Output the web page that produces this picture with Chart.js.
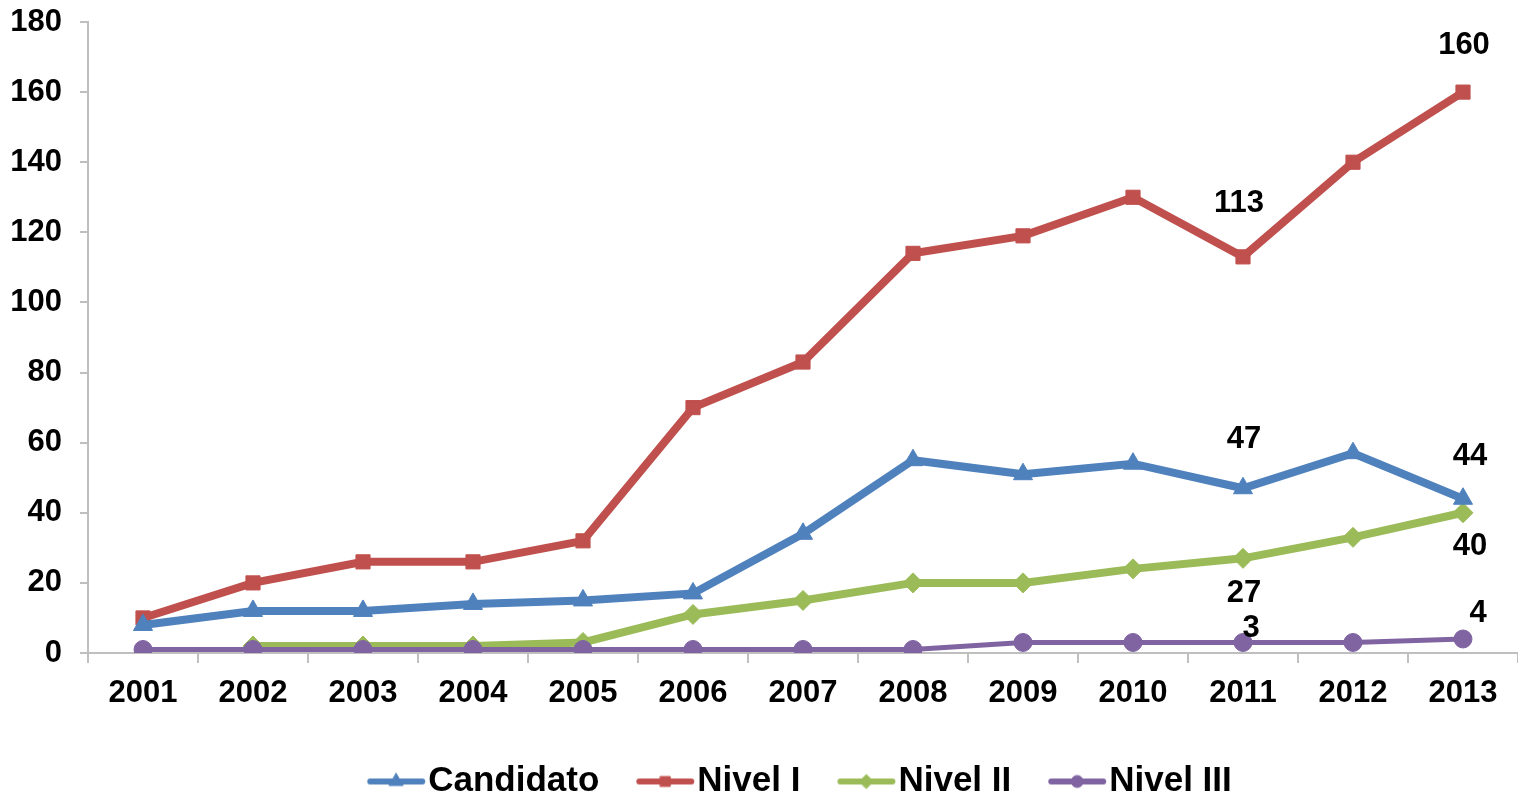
<!DOCTYPE html>
<html>
<head>
<meta charset="utf-8">
<script src="https://cdn.jsdelivr.net/npm/chart.js@4.4.1/dist/chart.umd.min.js"></script>
<style>
html,body{margin:0;padding:0;background:#fff;overflow:hidden;}
#wrap{width:1530px;height:797px;}
</style>
</head>
<body>
<div id="wrap"><canvas id="c" width="1530" height="797"></canvas></div>
<script>
// ---- data ----
const years = ['2001','2002','2003','2004','2005','2006','2007','2008','2009','2010','2011','2012','2013'];
const candidato = [8,12,12,14,15,17,34,55,51,54,47,57,44];
const nivelI   = [10,20,26,26,32,70,83,114,119,130,113,140,160];
const nivelII  = [null,2,2,2,3,11,15,20,20,24,27,33,40];
const nivelIII = [1,1,1,1,1,1,1,1,3,3,3,3,4];
const seriesNames = ['Candidato','Nivel I','Nivel II','Nivel III'];
const yTicks = [0,20,40,60,80,100,120,140,160,180];

// which points carry a value label
const labelSeries = ['Nivel I','Nivel I','Candidato','Candidato','Nivel II','Nivel II','Nivel III','Nivel III'];
const labelYears  = ['2011','2013','2011','2013','2011','2013','2011','2013'];
// label placement offsets (style, px)
const labelDx = [-4,1,1,7,1,7,8,15];
const labelDy = [-53,-47,-49,-42,35,34,-14,-26];

// ---- styles ----
const colors = ['#4F81BD','#C0504D','#9BBB59','#8064A2'];
const pointStyles = ['triangle','rect','rectRot','circle'];
const pointRadii = [11,10,10,9];
const lineWidths = [8,8,8,5];
const drawOrder = [1,2,3,0];
const FONT = "'Liberation Sans', Arial, sans-serif";
const LEG_FS = 35;
const LEG_BOX = 94 - LEG_FS/2;
const ICON_LEN = 58;
const LEGEND_SHIFT = -20;

const seriesData = [candidato, nivelI, nivelII, nivelIII];

function legendIcon(i){
  const cv = document.createElement('canvas');
  cv.width = Math.round(2*LEG_BOX); cv.height = 30;
  const ctx = cv.getContext('2d');
  const end = LEG_BOX + LEG_FS/2 - 3 + LEG_BOX/2;
  const start = end - ICON_LEN;
  ctx.strokeStyle = colors[i];
  ctx.lineWidth = 6;
  ctx.lineCap = 'round';
  ctx.beginPath(); ctx.moveTo(start+3,15); ctx.lineTo(end-3,15); ctx.stroke();
  ctx.fillStyle = colors[i];
  ctx.strokeStyle = colors[i];
  ctx.lineWidth = 1;
  Chart.helpers.drawPoint(ctx, {pointStyle: pointStyles[i], radius: Math.max(5, pointRadii[i]-3), rotation: 0, borderWidth: 1}, (start+end)/2, 15);
  return cv;
}

const valueLabels = {
  id: 'valueLabels',
  afterLayout(chart){
    if (chart.legend){ chart.legend.left += LEGEND_SHIFT; chart.legend.right += LEGEND_SHIFT; }
  },
  afterDatasetsDraw(chart){
    const ctx = chart.ctx;
    ctx.save();
    ctx.font = 'bold 31px ' + FONT;
    ctx.fillStyle = '#000';
    ctx.textAlign = 'center';
    ctx.textBaseline = 'middle';
    for (let k = 0; k < labelSeries.length; k++){
      const di = seriesNames.indexOf(labelSeries[k]);
      const pi = years.indexOf(labelYears[k]);
      const el = chart.getDatasetMeta(di).data[pi];
      const v = chart.data.datasets[di].data[pi];
      ctx.fillText(String(v), el.x + labelDx[k], el.y + labelDy[k]);
    }
    ctx.restore();
  }
};

const datasets = seriesNames.map((n,i)=>({
  label: n,
  data: seriesData[i],
  borderColor: colors[i],
  backgroundColor: colors[i],
  borderWidth: lineWidths[i],
  pointStyle: pointStyles[i],
  pointRadius: pointRadii[i],
  pointHoverRadius: pointRadii[i],
  pointBackgroundColor: colors[i],
  pointBorderColor: colors[i],
  pointBorderWidth: 1,
  tension: 0,
  fill: false,
  order: drawOrder[i]
}));

new Chart(document.getElementById('c'), {
  type: 'line',
  data: { labels: years, datasets },
  plugins: [valueLabels],
  options: {
    responsive: false,
    animation: false,
    events: [],
    layout: { padding: { top: 22, right: 8, left: 0, bottom: -12 } },
    plugins: {
      tooltip: { enabled: false },
      title: { display: false },
      legend: {
        position: 'bottom',
        fullSize: false,
        labels: {
          usePointStyle: true,
          pointStyleWidth: LEG_BOX,
          padding: 4,
          color: '#000',
          font: { family: FONT, size: LEG_FS, weight: 'bold' },
          generateLabels(chart){
            return chart.data.datasets.map((ds,i)=>({
              text: ds.label,
              pointStyle: legendIcon(i),
              fillStyle: colors[i],
              strokeStyle: colors[i],
              lineWidth: 0,
              hidden: false,
              datasetIndex: i,
              fontColor: '#000'
            }));
          }
        }
      }
    },
    scales: {
      x: {
        offset: true,
        grid: { offset: true, drawOnChartArea: false, tickLength: 10, color: '#BFBFBF', lineWidth: 2 },
        border: { color: '#BFBFBF', width: 2 },
        ticks: { color: '#000', padding: 12, maxRotation: 0, autoSkip: false, font: { family: FONT, size: 31, weight: 'bold' } },
        afterFit(s){ s.height = 107; }
      },
      y: {
        min: 0, max: 180,
        afterBuildTicks(s){ s.ticks = yTicks.map(v=>({value:v})); },
        grid: { drawOnChartArea: false, tickLength: 8, color: '#BFBFBF', lineWidth: 2 },
        border: { color: '#BFBFBF', width: 2 },
        ticks: { color: '#000', padding: 18, font: { family: FONT, size: 31, weight: 'bold' } },
        afterFit(s){ s.width = 88; s.paddingTop = 0; s.paddingBottom = 0; }
      }
    }
  }
});
</script>
</body>
</html>
